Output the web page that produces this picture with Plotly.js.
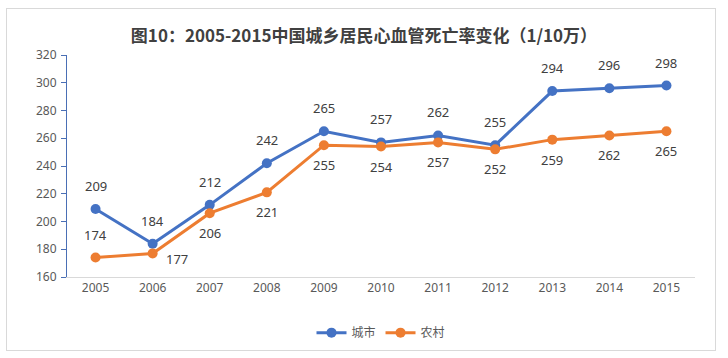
<!DOCTYPE html>
<html>
<head>
<meta charset="utf-8">
<script src="https://cdn.plot.ly/plotly-3.0.1.min.js"></script>
<style>
html,body{margin:0;padding:0;background:#fff;}
#frame{position:absolute;left:6px;top:8px;width:710px;height:343px;border:1px solid #d9d9d9;box-sizing:border-box;}
#chart{position:absolute;left:0;top:0;width:728px;height:358px;}
</style>
</head>
<body>
<div id="frame"></div>
<div id="chart"></div>
<script>
const years = ['2005','2006','2007','2008','2009','2010','2011','2012','2013','2014','2015'];
const urban = [209,184,212,242,265,257,262,255,294,296,298];
const rural = [174,177,206,221,255,254,257,252,259,262,265];
const yTicks = [160,180,200,220,240,260,280,300,320];

const blue = '#4472C4', orange = '#ED7D31';

const traces = [
  {x: years, y: urban, name: '城市', type: 'scatter', mode: 'lines+markers',
   line: {color: blue, width: 3}, marker: {color: blue, size: 10}},
  {x: years, y: rural, name: '农村', type: 'scatter', mode: 'lines+markers',
   line: {color: orange, width: 3}, marker: {color: orange, size: 10}}
];

const annotations = [];
const lblFont = {family: 'Noto Sans, DejaVu Sans, sans-serif', size: 13, color: '#404040'};
urban.forEach((v, i) => {
  annotations.push({xref: 'x', yref: 'y', x: i, y: v, text: String(v), showarrow: false,
    yshift: 23, font: lblFont});
});
rural.forEach((v, i) => {
  let a = {xref: 'x', yref: 'y', x: i, y: v, text: String(v), showarrow: false, yshift: -20, font: lblFont};
  if (i === 0) a.yshift = 23;
  if (i === 1) { a.yshift = -6; a.xshift = 24; }
  annotations.push(a);
});

const layout = {
  width: 728, height: 358,
  margin: {l: 67, r: 33, t: 55, b: 80},
  paper_bgcolor: 'rgba(0,0,0,0)',
  plot_bgcolor: 'rgba(0,0,0,0)',
  title: {text: '<b>图10：2005-2015中国城乡居民心血管死亡率变化（1/10万）</b>',
    font: {family: 'Noto Sans CJK SC, sans-serif', size: 17, color: '#404040'},
    x: 0.5, xanchor: 'center', y: 0.9, yanchor: 'middle'},
  xaxis: {type: 'category', showgrid: false, showline: true, linecolor: '#d9d9d9', linewidth: 1,
    ticks: '', tickfont: {family: 'Noto Sans, DejaVu Sans, sans-serif', size: 12, color: '#595959'},
    range: [-0.5, 10.5], fixedrange: true, zeroline: false},
  yaxis: {range: [160, 320], tickvals: yTicks, showgrid: false, showline: true,
    linecolor: '#4a6fb5', linewidth: 1, ticks: 'outside', ticklen: 5, tickcolor: '#4a6fb5',
    tickfont: {family: 'Noto Sans, DejaVu Sans, sans-serif', size: 12, color: '#595959'},
    zeroline: false, ticklabelstandoff: 2},
  showlegend: true,
  legend: {orientation: 'h', x: 0.5, xanchor: 'center', y: -0.245, yanchor: 'middle',
    font: {family: 'Noto Sans CJK SC, sans-serif', size: 12, color: '#595959'}},
  annotations: annotations
};

Plotly.newPlot('chart', traces, layout, {displayModeBar: false, staticPlot: true});
</script>
</body>
</html>
